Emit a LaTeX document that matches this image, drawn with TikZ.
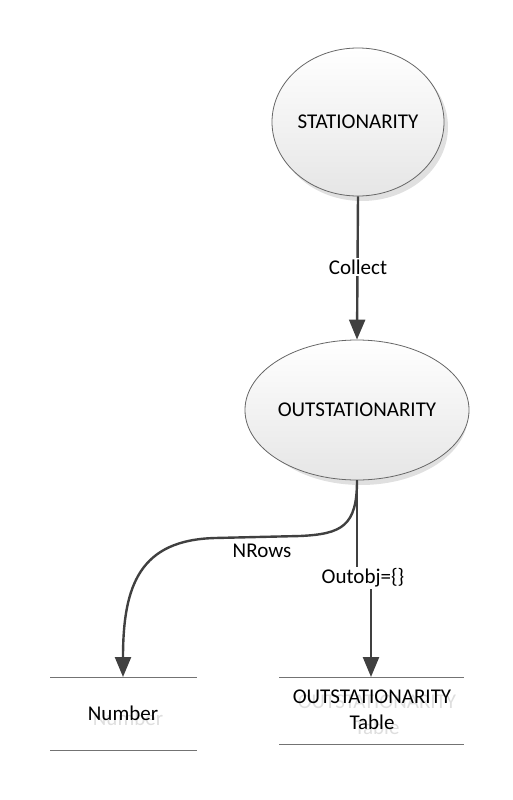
\documentclass[tikz,border=0pt]{standalone}
\usepackage{fontspec}
\setmainfont{Carlito}
\usetikzlibrary{arrows.meta,shapes.geometric}
\definecolor{linec}{HTML}{404040}
\tikzset{
  every picture/.style={x=1pt,y=-1pt},
  ell/.style={ellipse,draw=gray!80!black,line width=0.8pt,inner sep=0pt,top color=white,bottom color=black!10,font=\fontsize{21}{25}\selectfont},
  ellshadow/.style={ellipse,fill=black!12,inner sep=0pt},
  conn/.style={draw=linec,line width=2.4pt,-{Triangle[length=20pt,width=16pt]}},
  lbl/.style={fill=white,inner sep=2pt,font=\fontsize{21}{25}\selectfont},
  txt/.style={font=\fontsize{21}{25}\selectfont},
  ghost/.style={text=black!13,font=\fontsize{21}{25}\selectfont},
  storeline/.style={draw=black!55,line width=0.8pt},
}
\begin{document}
\begin{tikzpicture}
\useasboundingbox (0,0) rectangle (512,800);
% shadows
\node[ellshadow,minimum width=172pt,minimum height=148pt] (s1) at (362,127) {};
\node[ellshadow,minimum width=214pt,minimum height=140pt] (s2) at (361,415) {};
% ellipses
\node[ell,minimum width=172pt,minimum height=148pt] (stat) at (358,122) {STATIONARITY};
\node[ell,minimum width=214pt,minimum height=140pt] (out) at (357,410) {OUTSTATIONARITY};
% data stores
\coordinate (numt) at (123,677);
\coordinate (tabt) at (371,677);
\draw[storeline] (50,677) -- (197,677);
\draw[storeline] (50,750) -- (197,750);
\draw[storeline] (279,677) -- (464,677);
\draw[storeline] (279,744) -- (464,744);
\node[ghost] (numg) at (128,718) {Number};
\node[txt] (num) at (123,713) {Number};
\node[ghost,align=center,font=\fontsize{21}{26}\selectfont] (tabg) at (377,715) {OUTSTATIONARITY\\Table};
\node[txt,align=center,font=\fontsize{21}{26}\selectfont] (tab) at (372,710) {OUTSTATIONARITY\\Table};
% connectors
\draw[conn] (stat.south) -- (out.north);
\node[lbl] (lc) at (358,267) {Collect};
\draw[conn] (out.south) .. controls (357,526) and (342,534) .. (300,536)
  -- (215,538) .. controls (140,540) and (123,585) .. (numt);
\node[lbl,fill=none] (ln) at (262,551) {NRows};
\draw[conn] (out.south) -- (357,579) -- (371,579) -- (tabt);
\node[lbl] (lo) at (363,578) {Outobj=\{\}};
\end{tikzpicture}
\end{document}
